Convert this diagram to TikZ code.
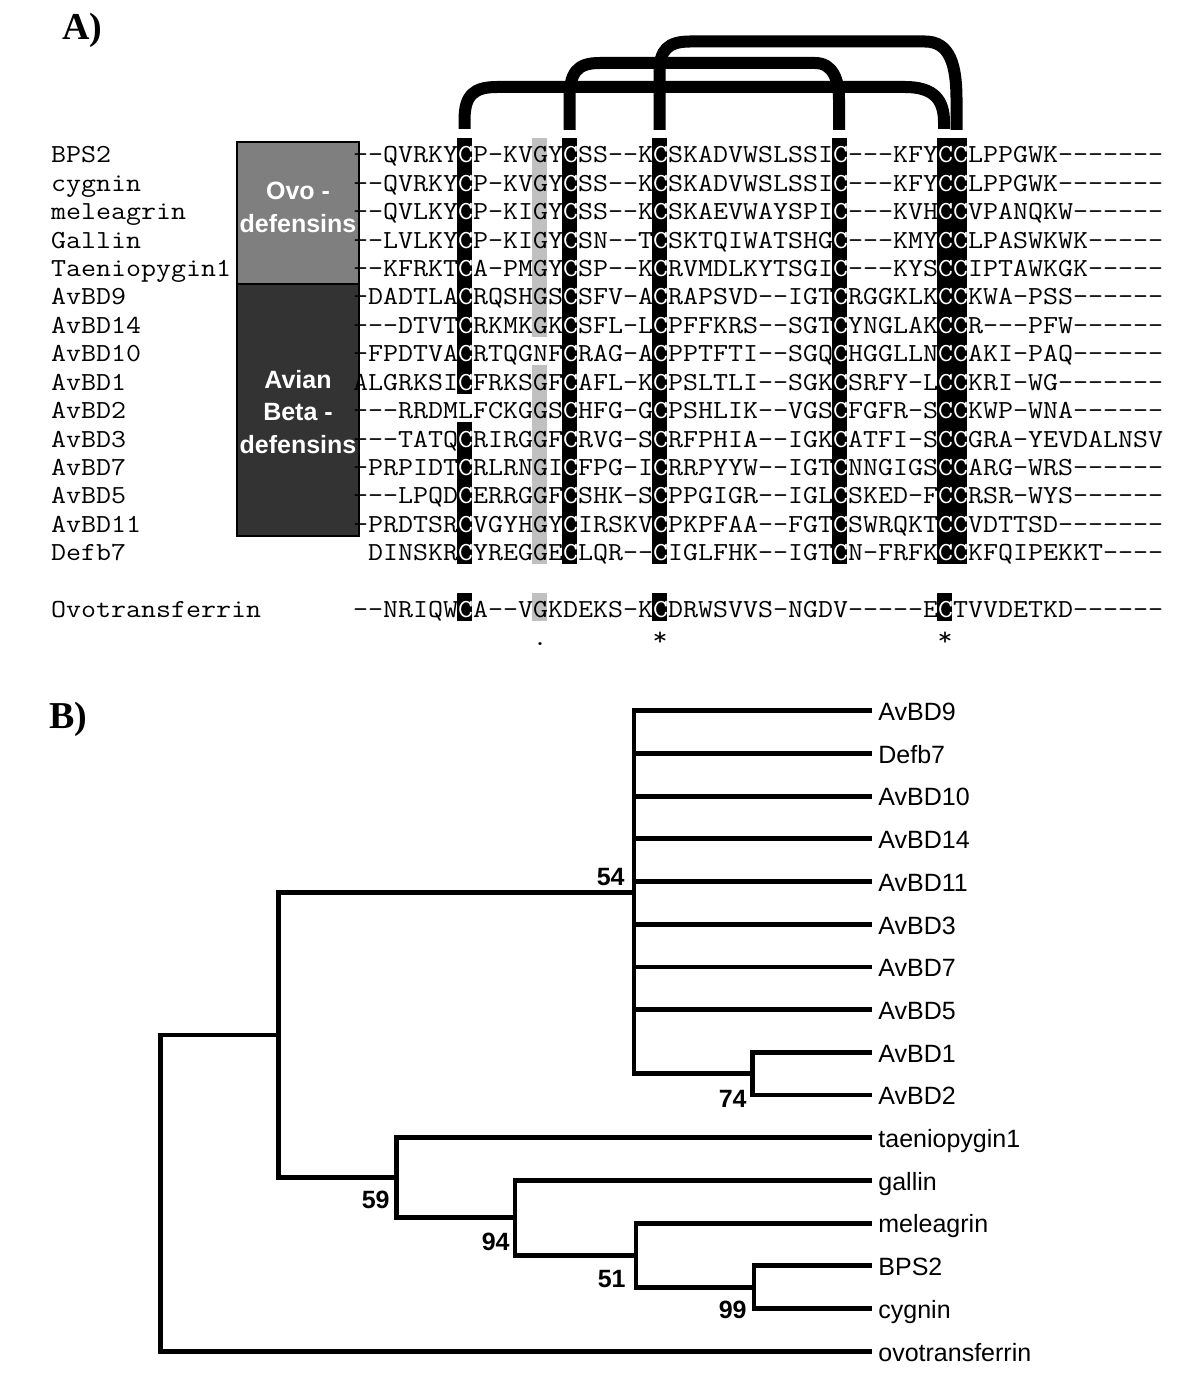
\documentclass[tikz,border=0pt]{standalone}
\usepackage{fontspec}
\usepackage{graphicx}
\newfontfamily\arialf{Liberation Sans}
\newfontfamily\timesf{Liberation Serif}
\definecolor{ovogray}{HTML}{7F7F7F}
\definecolor{aviandark}{HTML}{333333}
\definecolor{lightbar}{HTML}{C0C0C0}
\newcommand\WC{\textcolor{white}{C}}
\newlength\seqcharw
\newcommand\seqscale{1}
\newcommand\seqtext[1]{\scalebox{\seqscale}[1]{\ttfamily\fontsize{13}{13}\selectfont #1}}
\tikzset{
  seqrow/.style={anchor=base west, inner sep=0pt, outer sep=0pt},
  namelab/.style={anchor=base west, inner sep=0pt, outer sep=0pt},
  seqmark/.style={anchor=base, inner sep=0pt, outer sep=0pt},
  grpbox/.style={draw=black, line width=1pt, inner sep=0pt, minimum width=61pt},
  grplab/.style={anchor=base, inner sep=0pt, text=white, font=\arialf\bfseries\fontsize{12.5}{15}\selectfont},
  bridge/.style={line width=6pt, line cap=butt},
  treeline/.style={line width=2.4pt, line join=miter},
  leaflab/.style={anchor=base west, inner sep=0pt, font=\arialf\fontsize{12.5}{15}\selectfont},
  boot/.style={anchor=base east, inner sep=0pt, font=\arialf\bfseries\fontsize{12.5}{15}\selectfont},
  panel/.style={anchor=base west, inner sep=0pt, font=\timesf\bfseries\fontsize{19}{22}\selectfont}
}
\begin{document}
\settowidth\seqcharw{\ttfamily\fontsize{13}{13}\selectfont M}
\pgfmathsetmacro\seqscale{7.5/\seqcharw}
\begin{tikzpicture}[x=0.5pt,y=-0.5pt]
\fill[white] (0,0) rectangle (1200,1385);
\useasboundingbox (0,0) rectangle (1200,1385);

% panel labels
\node[panel] (pA) at (62,40) {A)};
\node[panel] (pB) at (49,728) {B)};

% group boxes
\node[grpbox, fill=ovogray, minimum height=71pt] (ovobox) at (298,213) {};
\node[grpbox, fill=aviandark, minimum height=126pt] (avbox) at (298,410) {};
\node[grplab] (ovoL1) at (298,200) {Ovo -};
\node[grplab] (ovoL2) at (298,233) {defensins};
\node[grplab] (avL1) at (298,388) {Avian};
\node[grplab] (avL2) at (298,420) {Beta -};
\node[grplab] (avL3) at (298,453) {defensins};

% gray column (col 13)
\fill[lightbar] (532,138) rectangle (547,336.8);
\fill[lightbar] (532,365.2) rectangle (547,564);
\fill[lightbar] (532,593) rectangle (547,620.5);
% black cysteine columns
\fill[black] (457,138) rectangle (472,393.6);
\fill[black] (457,422) rectangle (472,564);
\fill[black] (562,138) rectangle (577,564);
\fill[black] (652,138) rectangle (667,564);
\fill[black] (832,138) rectangle (847,564);
\fill[black] (937,138) rectangle (967,564);
\fill[black] (457,593) rectangle (472,620.5);
\fill[black] (652,593) rectangle (667,620.5);
\fill[black] (937,593) rectangle (952,620.5);

% disulfide bridges
\draw[bridge] (464.5,129) -- (464.5,120) .. controls (464.5,95) and (474,87) .. (497,87) -- (905,87) .. controls (934,87) and (944,100) .. (944,122) -- (944,129);
\draw[bridge] (569.5,130) -- (569.5,100) .. controls (569.5,72) and (577,63) .. (600,63) -- (815,63) .. controls (833,63) and (839,80) .. (839,100) -- (839,130);
\draw[bridge] (659.5,130) -- (659.5,72) .. controls (659.5,50) and (668,41.5) .. (690,41.5) -- (925,41.5) .. controls (950,41.5) and (956.5,65) .. (956.5,100) -- (956.5,130);

% sequence names
\node[namelab] (nBPS2) at (51,163) {\seqtext{BPS2}};
\node[namelab] (ncyg) at (51,191.4) {\seqtext{cygnin}};
\node[namelab] (nmel) at (51,219.8) {\seqtext{meleagrin}};
\node[namelab] (ngal) at (51,248.2) {\seqtext{Gallin}};
\node[namelab] (ntae) at (51,276.6) {\seqtext{Taeniopygin1}};
\node[namelab] (n9) at (51,305) {\seqtext{AvBD9}};
\node[namelab] (n14) at (51,333.4) {\seqtext{AvBD14}};
\node[namelab] (n10) at (51,361.8) {\seqtext{AvBD10}};
\node[namelab] (n1) at (51,390.2) {\seqtext{AvBD1}};
\node[namelab] (n2) at (51,418.6) {\seqtext{AvBD2}};
\node[namelab] (n3) at (51,447) {\seqtext{AvBD3}};
\node[namelab] (n7) at (51,475.4) {\seqtext{AvBD7}};
\node[namelab] (n5) at (51,503.8) {\seqtext{AvBD5}};
\node[namelab] (n11) at (51,532.2) {\seqtext{AvBD11}};
\node[namelab] (ndef) at (51,560.6) {\seqtext{Defb7}};
\node[namelab] (novo) at (51,617) {\seqtext{Ovotransferrin}};

% sequences
\node[seqrow] (sBPS2) at (353,163) {\seqtext{--QVRKY\WC P-KVGY\WC SS--K\WC SKADVWSLSSI\WC---KFY\WC\WC LPPGWK-------}};
\node[seqrow] (scyg) at (353,191.4) {\seqtext{--QVRKY\WC P-KVGY\WC SS--K\WC SKADVWSLSSI\WC---KFY\WC\WC LPPGWK-------}};
\node[seqrow] (smel) at (353,219.8) {\seqtext{--QVLKY\WC P-KIGY\WC SS--K\WC SKAEVWAYSPI\WC---KVH\WC\WC VPANQKW------}};
\node[seqrow] (sgal) at (353,248.2) {\seqtext{--LVLKY\WC P-KIGY\WC SN--T\WC SKTQIWATSHG\WC---KMY\WC\WC LPASWKWK-----}};
\node[seqrow] (stae) at (353,276.6) {\seqtext{--KFRKT\WC A-PMGY\WC SP--K\WC RVMDLKYTSGI\WC---KYS\WC\WC IPTAWKGK-----}};
\node[seqrow] (s9) at (353,305) {\seqtext{-DADTLA\WC RQSHGS\WC SFV-A\WC RAPSVD--IGT\WC RGGKLK\WC\WC KWA-PSS------}};
\node[seqrow] (s14) at (353,333.4) {\seqtext{---DTVT\WC RKMKGK\WC SFL-L\WC PFFKRS--SGT\WC YNGLAK\WC\WC R---PFW------}};
\node[seqrow] (s10) at (353,361.8) {\seqtext{-FPDTVA\WC RTQGNF\WC RAG-A\WC PPTFTI--SGQ\WC HGGLLN\WC\WC AKI-PAQ------}};
\node[seqrow] (s1) at (353,390.2) {\seqtext{ALGRKSI\WC FRKSGF\WC AFL-K\WC PSLTLI--SGK\WC SRFY-L\WC\WC KRI-WG-------}};
\node[seqrow] (s2) at (353,418.6) {\seqtext{---RRDMLFCKGGS\WC HFG-G\WC PSHLIK--VGS\WC FGFR-S\WC\WC KWP-WNA------}};
\node[seqrow] (s3) at (353,447) {\seqtext{---TATQ\WC RIRGGF\WC RVG-S\WC RFPHIA--IGK\WC ATFI-S\WC\WC GRA-YEVDALNSV}};
\node[seqrow] (s7) at (353,475.4) {\seqtext{-PRPIDT\WC RLRNGI\WC FPG-I\WC RRPYYW--IGT\WC NNGIGS\WC\WC ARG-WRS------}};
\node[seqrow] (s5) at (353,503.8) {\seqtext{---LPQD\WC ERRGGF\WC SHK-S\WC PPGIGR--IGL\WC SKED-F\WC\WC RSR-WYS------}};
\node[seqrow] (s11) at (353,532.2) {\seqtext{-PRDTSR\WC VGYHGY\WC IRSKV\WC PKPFAA--FGT\WC SWRQKT\WC\WC VDTTSD-------}};
\node[seqrow] (sdef) at (368,560.6) {\seqtext{DINSKR\WC YREGGE\WC LQR--\WC IGLFHK--IGT\WC N-FRFK\WC\WC KFQIPEKKT----}};
\node[seqrow] (sovo) at (353,617) {\seqtext{--NRIQW\WC A--VGKDEKS-K\WC DRWSVVS-NGDV-----E\WC TVVDETKD------}};

% conservation marks
\node[seqmark] (mk13) at (540,645) {\seqtext{.}};
\node[seqmark] (mk21) at (660,645) {\seqtext{*}};
\node[seqmark] (mk40) at (945,645) {\seqtext{*}};

% ---------------- tree ----------------
\foreach \nm [count=\i from 0] in {AvBD9,Defb7,AvBD10,AvBD14,AvBD11,AvBD3,AvBD7,AvBD5,AvBD1,AvBD2,taeniopygin1,gallin,meleagrin,BPS2,cygnin,ovotransferrin}{
  \coordinate (t\i) at (872,{710.7+42.7*\i});
  \node[leaflab] (l\i) at (878,{720.5+42.7*\i}) {\nm};
}
\coordinate (nP) at (634,892.2);
\coordinate (nQ) at (752.3,1073.65);
\coordinate (nE) at (754,1287.15);
\coordinate (nD) at (636,1255.1);
\coordinate (nC) at (515,1217.8);
\coordinate (nB) at (396.7,1177.7);
\coordinate (nA) at (278.3,1035);
\coordinate (nR) at (160.7,1193.1);

\foreach \k in {0,...,7}{\draw[treeline] (nP) |- (t\k);}
\draw[treeline] (nP) |- (nQ);
\draw[treeline] (nQ) |- (t8);
\draw[treeline] (nQ) |- (t9);
\draw[treeline] (nA) |- (nP);
\draw[treeline] (nA) |- (nB);
\draw[treeline] (nB) |- (t10);
\draw[treeline] (nB) |- (nC);
\draw[treeline] (nC) |- (t11);
\draw[treeline] (nC) |- (nD);
\draw[treeline] (nD) |- (t12);
\draw[treeline] (nD) |- (nE);
\draw[treeline] (nE) |- (t13);
\draw[treeline] (nE) |- (t14);
\draw[treeline] (nR) |- (nA);
\draw[treeline] (nR) |- (t15);

% bootstrap values
\node[boot] (b54) at (625,885) {54};
\node[boot] (b74) at (747,1107) {74};
\node[boot] (b59) at (390,1208) {59};
\node[boot] (b94) at (510,1250) {94};
\node[boot] (b51) at (626,1287) {51};
\node[boot] (b99) at (747,1318) {99};
\end{tikzpicture}
\end{document}
